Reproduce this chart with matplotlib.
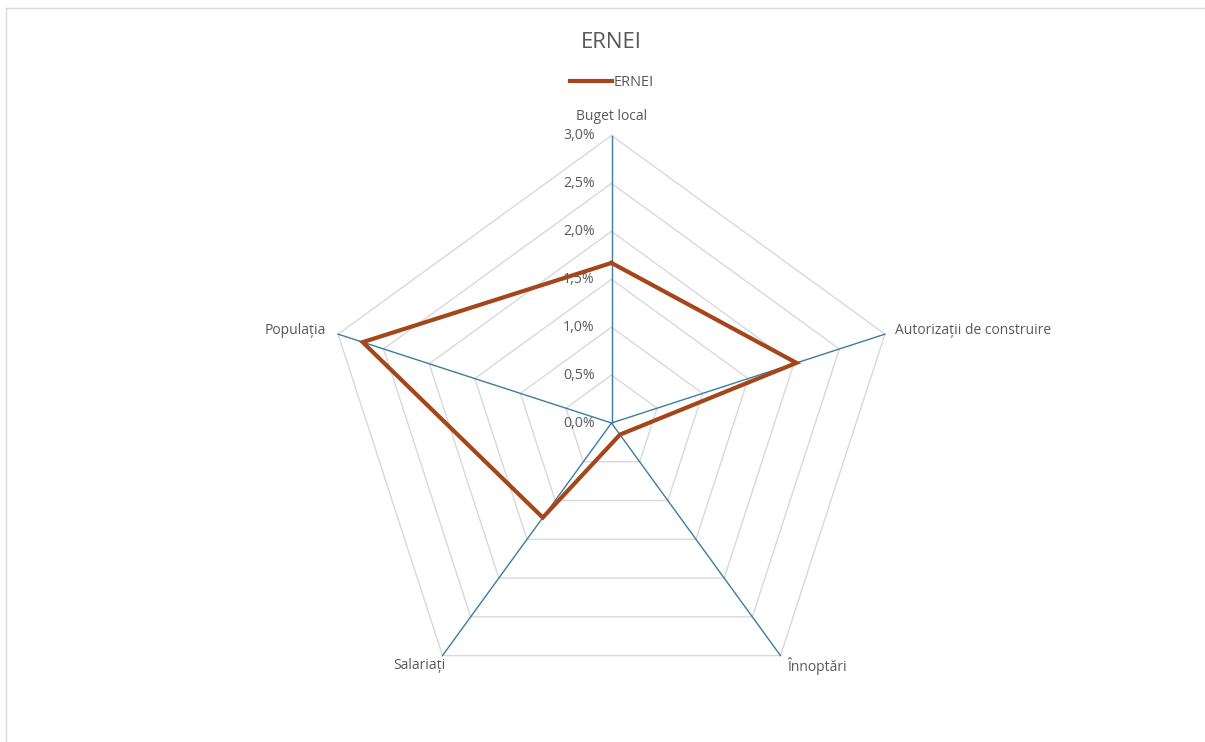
import matplotlib.pyplot as plt
import numpy as np
from matplotlib.lines import Line2D

plt.rcParams["font.family"] = ["Open Sans", "DejaVu Sans"]

categories = ["Buget local", "Autorizații de construire", "Înnoptări", "Salariați", "Populația"]
values = [1.67, 2.03, 0.15, 1.22, 2.73]
ticks = [0.0, 0.5, 1.0, 1.5, 2.0, 2.5, 3.0]
tick_labels = ["0,0%", "0,5%", "1,0%", "1,5%", "2,0%", "2,5%", "3,0%"]
series_name = "ERNEI"

W, H = 1205, 742
cx, cy, rad = 611.5, 423.0, 287.5
scale = rad / 3.0  # px per percent

fig = plt.figure(figsize=(W / 100, H / 100), dpi=100)
ax = fig.add_axes([0, 0, 1, 1])
ax.set_xlim(-cx / scale, (W - cx) / scale)
ax.set_ylim(-(H - cy) / scale, cy / scale)
ax.axis("off")

text_col = "#595959"
spoke_col = "#3C7D9E"
grid_col = "#D9D9D9"
line_col = "#A5461A"

n = len(categories)
theta = np.arange(n) * 2 * np.pi / n
sx, sy = np.sin(theta), np.cos(theta)

# grid rings
for t in ticks[1:]:
    ax.plot(np.append(sx, sx[0]) * t, np.append(sy, sy[0]) * t, color=grid_col, lw=1, zorder=1)

# spokes
for i in range(n):
    ax.plot([0, sx[i] * 3], [0, sy[i] * 3], color=spoke_col, lw=1, zorder=2)

# data
v = np.array(values)
ax.plot(np.append(sx * v, sx[0] * v[0]), np.append(sy * v, sy[0] * v[0]),
        color=line_col, lw=3, solid_joinstyle="miter", zorder=3)

# radial tick labels
for t, lab in zip(ticks, tick_labels):
    ax.text(-17 / scale, t, lab, ha="right", va="center", fontsize=10.2, color=text_col)

# category labels
off = 10 / scale
lab_pos = [
    (0, 3 + off + 2 / scale, "center", "bottom"),
    (sx[1] * 3 + off, sy[1] * 3 + 4 / scale, "left", "center"),
    (sx[2] * 3 + 7 / scale, sy[2] * 3 - 10 / scale, "left", "center"),
    (sx[3] * 3 + 3 / scale, sy[3] * 3 - 10 / scale, "right", "center"),
    (sx[4] * 3 - 12 / scale, sy[4] * 3 + 4 / scale, "right", "center"),
]
for (x, y, ha, va), lab in zip(lab_pos, categories):
    ax.text(x, y, lab, ha=ha, va=va, fontsize=10, color=text_col)

fig.text(611 / W, 1 - 42 / H, series_name, ha="center", va="center", fontsize=16, color=text_col)
fig.legend([Line2D([], [], color=line_col, lw=3)], [series_name], loc="center",
           bbox_to_anchor=(612 / W, 1 - 83 / H), frameon=False, fontsize=10.5,
           labelcolor=text_col, handlelength=2.9, handletextpad=0.1)

# chart border
fig.add_artist(Line2D([6 / W, 6 / W], [0, 1 - 8 / H], color="#D9D9D9", lw=1))
fig.add_artist(Line2D([6 / W, 1], [1 - 8 / H, 1 - 8 / H], color="#D9D9D9", lw=1))

fig.savefig("out.png", dpi=100, facecolor="white")
